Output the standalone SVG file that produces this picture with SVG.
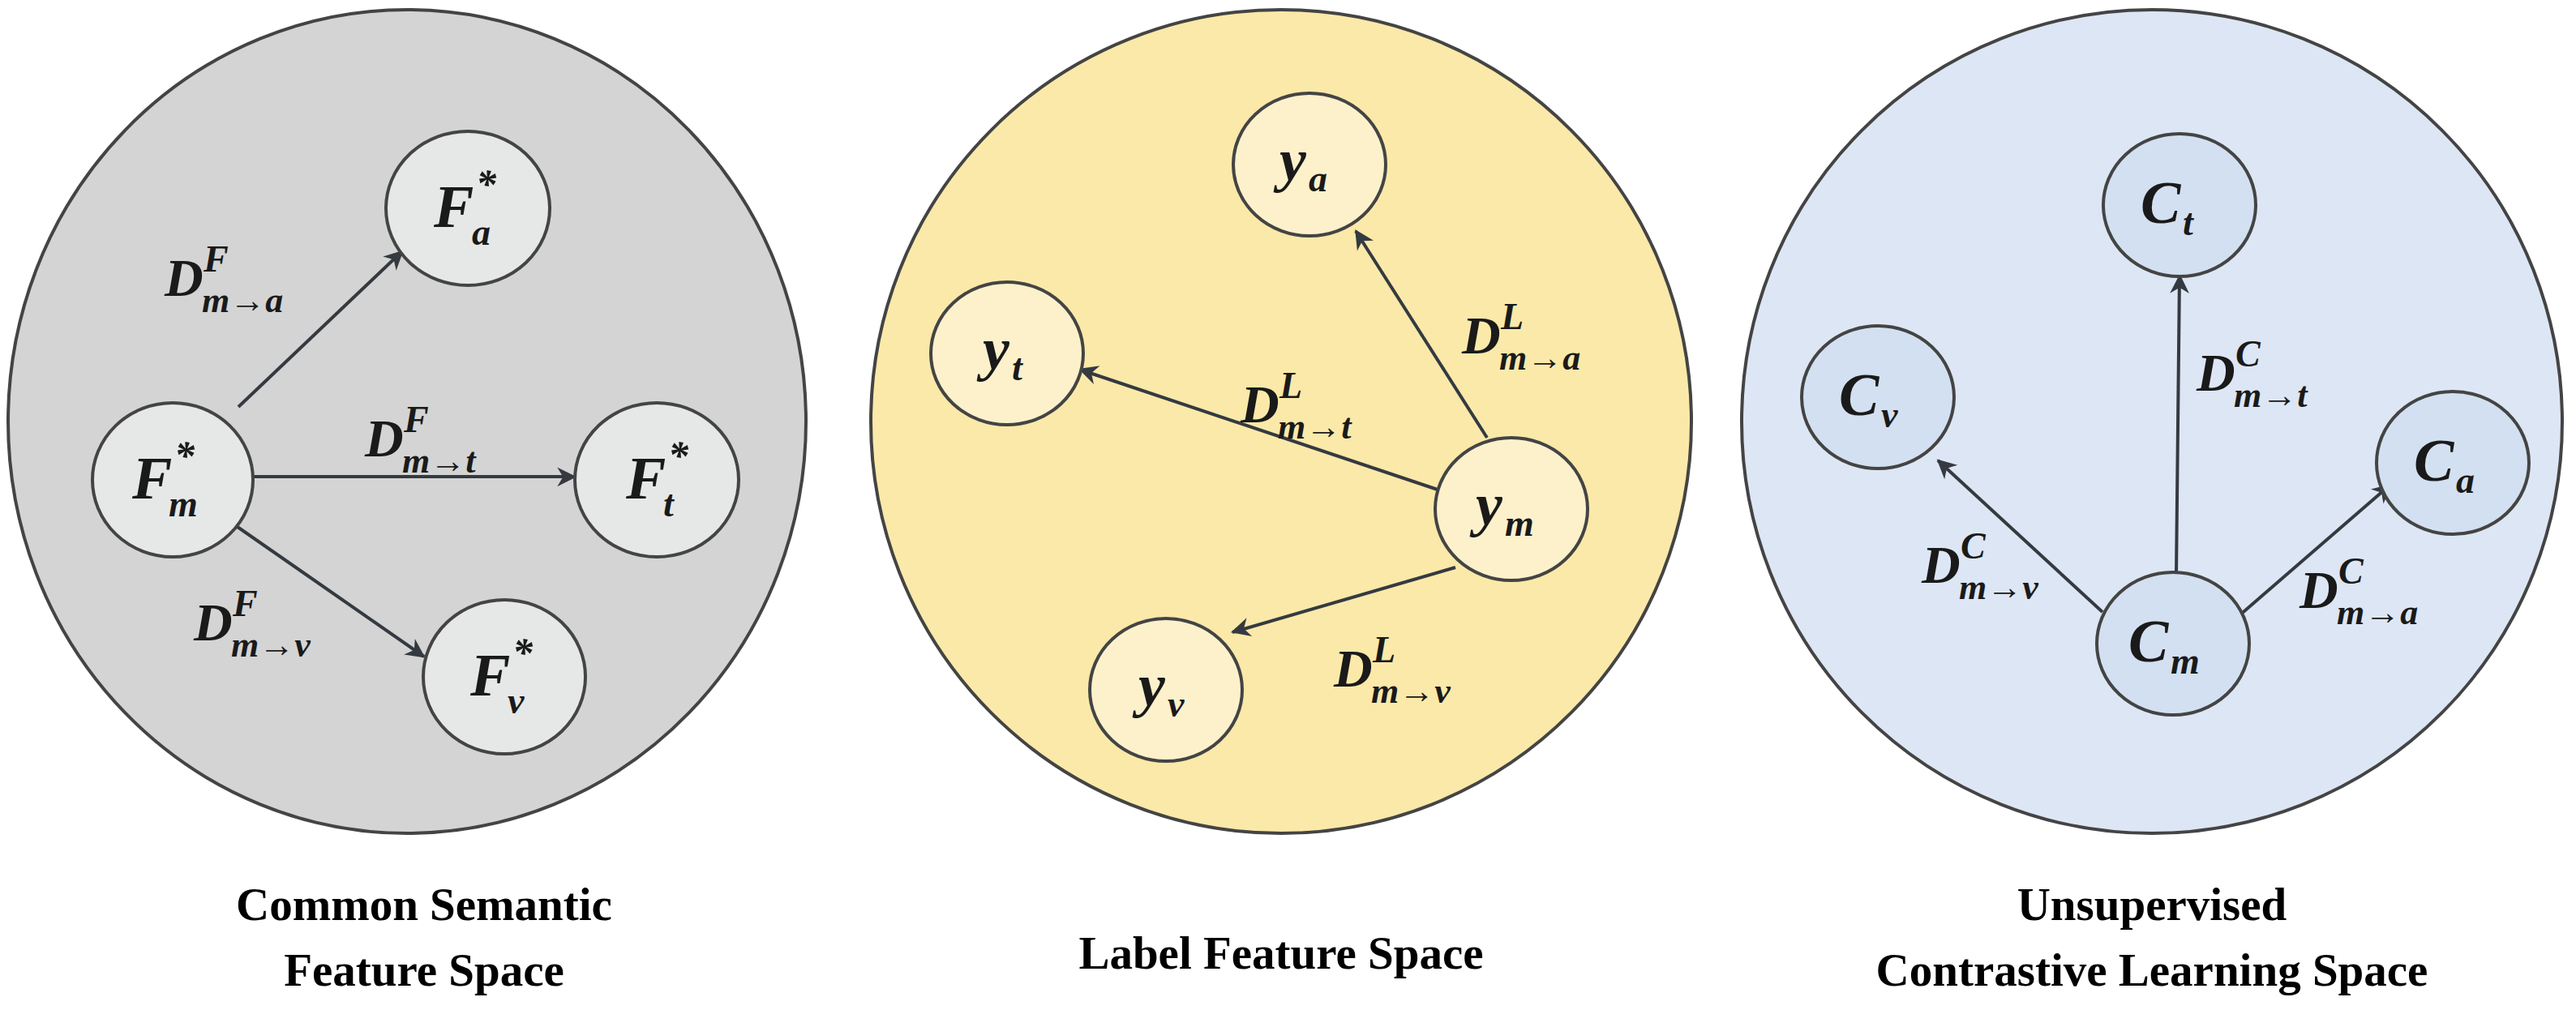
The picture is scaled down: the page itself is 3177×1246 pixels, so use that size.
<svg xmlns="http://www.w3.org/2000/svg" width="3177" height="1246" viewBox="0 0 3177 1246">
<defs>
<marker id="ah" viewBox="0 0 10 10" refX="9" refY="5" markerWidth="7" markerHeight="7" orient="auto" markerUnits="userSpaceOnUse" style="overflow:visible">
<path d="M0,0 L10,5 L0,10 L3,5 z" fill="#343a40" transform="scale(3.4) translate(-6.5,-3.4)"/>
</marker>
<style>
.big{stroke:#444;stroke-width:4}
.nd{stroke:#444;stroke-width:4}
.m{font-family:"Liberation Serif",serif;font-style:italic;font-weight:bold;fill:#1a1a1a}
.cap{font-family:"Liberation Serif",serif;font-weight:bold;font-size:57px;fill:#000;text-anchor:middle}
.ed{stroke:#343a40;stroke-width:4;fill:none;marker-end:url(#ah)}
</style>
</defs>
<g id="panel-common">
<ellipse cx="502" cy="520" rx="492" ry="508" fill="#d4d4d4" class="big"/>
<text class="cap" x="523" y="1135">Common Semantic</text>
<text class="cap" x="523" y="1216">Feature Space</text>
</g>
<g id="panel-label">
<ellipse cx="1580" cy="520" rx="506" ry="508" fill="#fbe9a9" class="big"/>
<text class="cap" x="1580" y="1195">Label Feature Space</text>
</g>
<g id="panel-contrast">
<ellipse cx="2654" cy="520" rx="506" ry="508" fill="#dde6f4" class="big"/>
<text class="cap" x="2654" y="1135">Unsupervised</text>
<text class="cap" x="2654" y="1216">Contrastive Learning Space</text>
</g>
<g id="connectors">
<line class="ed" x1="294" y1="502" x2="496" y2="310"/>
<line class="ed" x1="308" y1="588" x2="709" y2="588"/>
<line class="ed" x1="290" y1="648" x2="523" y2="810"/>
<line class="ed" x1="1834" y1="540" x2="1672" y2="285"/>
<line class="ed" x1="1773" y1="604" x2="1332" y2="456"/>
<line class="ed" x1="1795" y1="700" x2="1520" y2="780"/>
<line class="ed" x1="2684" y1="710" x2="2688" y2="340"/>
<line class="ed" x1="2593" y1="755" x2="2390" y2="568"/>
<line class="ed" x1="2761" y1="760" x2="2948" y2="598"/>
<g class="m">
<text x="203" y="365" font-size="66">D</text><text x="251" y="335" font-size="46">F</text><text x="249" y="385" font-size="44">m→a</text>
<text x="450" y="563" font-size="66">D</text><text x="498" y="533" font-size="46">F</text><text x="496" y="583" font-size="44">m→t</text>
<text x="239" y="790" font-size="66">D</text><text x="287" y="760" font-size="46">F</text><text x="285" y="810" font-size="44">m→v</text>
<text x="1803" y="436" font-size="66">D</text><text x="1851" y="406" font-size="46">L</text><text x="1849" y="456" font-size="44">m→a</text>
<text x="1530" y="521" font-size="66">D</text><text x="1578" y="491" font-size="46">L</text><text x="1576" y="541" font-size="44">m→t</text>
<text x="1645" y="847" font-size="66">D</text><text x="1693" y="817" font-size="46">L</text><text x="1691" y="867" font-size="44">m→v</text>
<text x="2709" y="482" font-size="66">D</text><text x="2757" y="452" font-size="46">C</text><text x="2755" y="502" font-size="44">m→t</text>
<text x="2370" y="719" font-size="66">D</text><text x="2418" y="689" font-size="46">C</text><text x="2416" y="739" font-size="44">m→v</text>
<text x="2836" y="750" font-size="66">D</text><text x="2884" y="720" font-size="46">C</text><text x="2882" y="770" font-size="44">m→a</text>
</g>
</g>
<g id="Fa"><ellipse cx="577" cy="257" rx="101" ry="95" fill="#e6e8e8" class="nd"/><text class="m" x="535" y="280" font-size="74">F</text><text class="m" x="587" y="244" font-size="50">*</text><text class="m" x="582" y="302" font-size="46">a</text></g>
<g id="Fm"><ellipse cx="213" cy="592" rx="99" ry="95" fill="#e6e8e8" class="nd"/><text class="m" x="163" y="615" font-size="74">F</text><text class="m" x="215" y="579" font-size="50">*</text><text class="m" x="208" y="637" font-size="46">m</text></g>
<g id="Ft"><ellipse cx="810" cy="592" rx="101" ry="95" fill="#e6e8e8" class="nd"/><text class="m" x="772" y="615" font-size="74">F</text><text class="m" x="824" y="579" font-size="50">*</text><text class="m" x="818" y="637" font-size="46">t</text></g>
<g id="Fv"><ellipse cx="622" cy="835" rx="100" ry="95" fill="#e6e8e8" class="nd"/><text class="m" x="580" y="858" font-size="74">F</text><text class="m" x="632" y="822" font-size="50">*</text><text class="m" x="626" y="880" font-size="46">v</text></g>
<g id="ya"><ellipse cx="1615" cy="203" rx="94" ry="88" fill="#fdf1cc" class="nd"/><text class="m" x="1578" y="222" font-size="74">y</text><text class="m" x="1614" y="236" font-size="46">a</text></g>
<g id="yt"><ellipse cx="1242" cy="436" rx="94" ry="88" fill="#fdf1cc" class="nd"/><text class="m" x="1212" y="455" font-size="74">y</text><text class="m" x="1248" y="469" font-size="46">t</text></g>
<g id="ym"><ellipse cx="1864" cy="628" rx="94" ry="88" fill="#fdf1cc" class="nd"/><text class="m" x="1820" y="647" font-size="74">y</text><text class="m" x="1856" y="661" font-size="46">m</text></g>
<g id="yv"><ellipse cx="1438" cy="851" rx="94" ry="88" fill="#fdf1cc" class="nd"/><text class="m" x="1404" y="870" font-size="74">y</text><text class="m" x="1440" y="884" font-size="46">v</text></g>
<g id="Ct"><ellipse cx="2688" cy="253" rx="94" ry="88" fill="#d3e0f1" class="nd"/><text class="m" x="2640" y="275" font-size="74">C</text><text class="m" x="2692" y="290" font-size="46">t</text></g>
<g id="Cv"><ellipse cx="2316" cy="490" rx="94" ry="88" fill="#d3e0f1" class="nd"/><text class="m" x="2268" y="512" font-size="74">C</text><text class="m" x="2320" y="527" font-size="46">v</text></g>
<g id="Ca"><ellipse cx="3025" cy="571" rx="94" ry="88" fill="#d3e0f1" class="nd"/><text class="m" x="2977" y="593" font-size="74">C</text><text class="m" x="3029" y="608" font-size="46">a</text></g>
<g id="Cm"><ellipse cx="2680" cy="794" rx="94" ry="88" fill="#d3e0f1" class="nd"/><text class="m" x="2625" y="816" font-size="74">C</text><text class="m" x="2677" y="831" font-size="46">m</text></g>
</svg>
